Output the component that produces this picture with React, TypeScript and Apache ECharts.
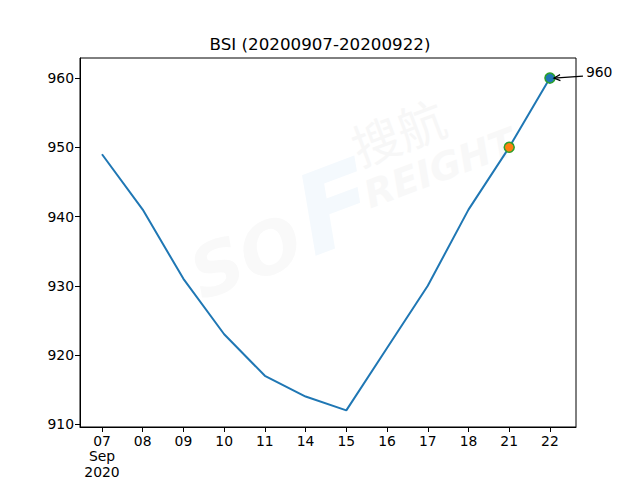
import React, { useEffect, useRef } from "react";
import * as echarts from "echarts";

const title = "BSI (20200907-20200922)";
const dayLabels = ["07", "08", "09", "10", "11", "14", "15", "16", "17", "18", "21", "22"];
const firstLabelExtra = "\nSep\n2020";
const bsiValues = [949, 941, 931, 923, 917, 914, 912, 921, 930, 941, 950, 960];
const yTicks = [910, 920, 930, 940, 950, 960];
const yLimits = [909.6, 962.9];
const xLimits = [-0.54, 11.64];
const highlightIdx = [10, 11];
const highlightFill = ["#ff7f0e", "#1f77b4"];
const annotationText = "960";

const FONT = "DejaVu Sans, sans-serif";

export default function App() {
  const ref = useRef<HTMLDivElement>(null);
  useEffect(() => {
    if (!ref.current) return;
    const chart = echarts.init(ref.current, null, { renderer: "svg" });
    const idx = dayLabels.map((_, i) => i);
    const n = dayLabels.length;
    chart.setOption({
      animation: false,
      title: {
        text: title,
        left: "center",
        top: 30,
        textStyle: { fontFamily: FONT, fontSize: 16.7, fontWeight: "normal", color: "#000" },
      },
      grid: {
        left: 80,
        right: 64,
        top: 58,
        bottom: 53,
        show: true,
        borderColor: "#000",
        borderWidth: 1,
        backgroundColor: "transparent",
      },
      xAxis: {
        type: "value",
        min: xLimits[0],
        max: xLimits[1],
        splitLine: { show: false },
        axisLine: { show: true, onZero: false, lineStyle: { color: "#000", width: 1 } },
        axisTick: { show: true, customValues: idx, length: 5, lineStyle: { color: "#000" } },
        axisLabel: {
          customValues: idx,
          margin: 6,
          fontFamily: FONT,
          fontSize: 13.9,
          color: "#000",
          lineHeight: 15.5,
          verticalAlign: "top",
          formatter: (v: number) => {
            const i = Math.round(v);
            return i === 0 ? dayLabels[i] + firstLabelExtra : dayLabels[i] ?? "";
          },
        },
      },
      yAxis: {
        type: "value",
        min: yLimits[0],
        max: yLimits[1],
        splitLine: { show: false },
        axisLine: { show: true, onZero: false, lineStyle: { color: "#000", width: 1 } },
        axisTick: { show: true, customValues: yTicks, length: 5, lineStyle: { color: "#000" } },
        axisLabel: {
          customValues: yTicks,
          margin: 6,
          fontFamily: FONT,
          fontSize: 13.9,
          color: "#000",
          formatter: (v: number) => String(Math.round(v)),
        },
      },
      series: [
        {
          type: "line",
          data: bsiValues.map((v, i) => [i, v]),
          showSymbol: false,
          symbol: "none",
          lineStyle: { color: "#1f77b4", width: 2 },
          z: 2,
        },
        {
          type: "scatter",
          data: highlightIdx.map((i, k) => ({
            value: [i, bsiValues[i]],
            itemStyle: { color: highlightFill[k], borderColor: "#2ca02c", borderWidth: 1.5, opacity: 1 },
          })),
          symbolSize: 10,
          z: 3,
        },
      ],
    });
    const last = n - 1;
    const p = chart.convertToPixel({ gridIndex: 0 }, [last, bsiValues[last]]) as number[];
    const sx = p[0] + 33;
    const sy = p[1] - 2;
    const ex = p[0] + 4;
    const ey = p[1];
    const ang = Math.atan2(ey - sy, ex - sx);
    const ah = 7;
    const a1 = [ex - ah * Math.cos(ang - 0.45), ey - ah * Math.sin(ang - 0.45)];
    const a2 = [ex - ah * Math.cos(ang + 0.45), ey - ah * Math.sin(ang + 0.45)];
    chart.setOption({
      graphic: [
        {
          type: "group",
          x: 330,
          y: 215,
          rotation: 0.36,
          z: -10,
          silent: true,
          children: [
            {
              type: "text",
              x: -150,
              y: 10,
              style: { text: "SO", font: "italic bold 72px DejaVu Sans", fill: "#f9f9f9", verticalAlign: "middle" },
            },
            {
              type: "text",
              x: -30,
              y: -5,
              style: { text: "F", font: "italic bold 110px DejaVu Sans", fill: "#f4f9fd", verticalAlign: "middle" },
            },
            {
              type: "text",
              x: 45,
              y: -55,
              style: { text: "搜航", font: "48px Noto Sans CJK SC", fill: "#f7f7f7", verticalAlign: "middle" },
            },
            {
              type: "text",
              x: 40,
              y: -5,
              style: { text: "REIGHT", font: "italic bold 38px DejaVu Sans", fill: "#f8f8f8", verticalAlign: "middle" },
            },
          ],
        },
        {
          type: "line",
          shape: { x1: sx, y1: sy, x2: ex, y2: ey },
          style: { stroke: "#000", lineWidth: 1.2 },
          z: 10,
        },
        {
          type: "polyline",
          shape: { points: [a1, [ex, ey], a2] },
          style: { stroke: "#000", lineWidth: 1.2, fill: null },
          z: 10,
        },
        {
          type: "text",
          x: sx + 3,
          y: sy - 4,
          style: {
            text: annotationText,
            font: "13.9px DejaVu Sans",
            fill: "#000",
            verticalAlign: "middle",
            align: "left",
          },
          z: 10,
        },
      ],
    });
    return () => chart.dispose();
  }, []);
  return <div ref={ref} style={{ width: 640, height: 480, position: "absolute", left: 0, top: 0 }} />;
}
